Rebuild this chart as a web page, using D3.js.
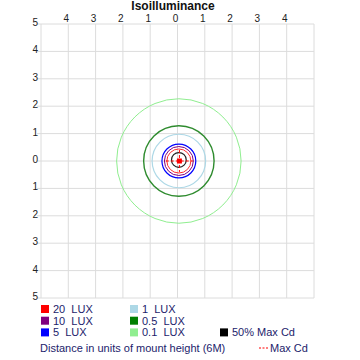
<!DOCTYPE html>
<html>
<head>
<meta charset="utf-8">
<script src="https://cdn.jsdelivr.net/npm/d3@7"></script>
<style>
  body { margin: 0; background: #fff; }
  text { font-family: "Liberation Sans", Arial, sans-serif; }
</style>
</head>
<body>
<div id="chart"></div>
<script>
// grid ticks (mount heights)
var xTicks = [-4, -3, -2, -1, 0, 1, 2, 3, 4];
var yTicks = [5, 4, 3, 2, 1, 0, -1, -2, -3, -4, -5];

// isolux contours: label, colour, radius (mount heights)
var levels = ["0.1 LUX", "0.5 LUX", "1 LUX", "5 LUX", "10 LUX", "20 LUX"];
var levelColors = ["#90ee90", "#2e8b2e", "#add8e6", "#0000ff", "#800080", "#ff3030"];
var levelRadii = [2.28, 1.29, 0.98, 0.62, 0.53, 0.44];
var levelWidths = [1, 1.4, 1.2, 1.2, 1, 1];
var centerX = 0.05, centerY = 0;

var halfMaxRadius = 0.27;          // 50% Max Cd
var maxCd = {x: 0.07, y: 0};       // Max Cd point
var maxCdSpan = 0.5;

var width = 360, height = 360;
var margin = {top: 24, left: 41, right: 46, bottom: 62};

var svg = d3.select("#chart").append("svg")
    .attr("width", width)
    .attr("height", height);

var x = d3.scaleLinear().domain([-5, 5]).range([margin.left, width - margin.right]);
var y = d3.scaleLinear().domain([-5, 5]).range([height - margin.bottom, margin.top]);
var k = x(1) - x(0);

svg.append("text")
    .attr("x", 173).attr("y", 10)
    .attr("text-anchor", "middle")
    .style("font-weight", "bold")
    .style("font-size", "12px")
    .attr("fill", "#111")
    .text("Isoilluminance");

// grid
var grid = svg.append("g").attr("stroke", "#dcdcdc").attr("stroke-width", 1);
d3.range(-5, 6).forEach(function(v) {
  grid.append("line").attr("x1", x(v)).attr("x2", x(v)).attr("y1", y(5)).attr("y2", y(-5));
  grid.append("line").attr("x1", x(-5)).attr("x2", x(5)).attr("y1", y(v)).attr("y2", y(v));
  grid.append("line").attr("x1", x(-5) - 4).attr("x2", x(-5)).attr("y1", y(v)).attr("y2", y(v));
});

svg.append("g").selectAll("text").data(xTicks).enter().append("text")
    .attr("x", function(d) { return x(d) - 2; })
    .attr("y", 22)
    .attr("text-anchor", "middle")
    .style("font-size", "10px")
    .attr("fill", "#222")
    .text(function(d) { return Math.abs(d); });

svg.append("g").selectAll("text").data(yTicks).enter().append("text")
    .attr("x", 38)
    .attr("y", function(d) { return y(d) + 2; })
    .attr("text-anchor", "end")
    .style("font-size", "10px")
    .attr("fill", "#222")
    .text(function(d) { return Math.abs(d); });

// contours
svg.append("g").selectAll("circle").data(levels).enter().append("circle")
    .attr("cx", x(centerX))
    .attr("cy", y(centerY))
    .attr("r", function(d, i) { return levelRadii[i] * k; })
    .attr("fill", "none")
    .attr("stroke", function(d, i) { return levelColors[i]; })
    .attr("stroke-width", function(d, i) { return levelWidths[i]; });

svg.append("circle")
    .attr("cx", x(centerX))
    .attr("cy", y(0.04))
    .attr("r", halfMaxRadius * k)
    .attr("fill", "none")
    .attr("stroke", "#222")
    .attr("stroke-width", 1.2);

var mc = svg.append("g").attr("stroke", "#ff0000").attr("stroke-dasharray", "3,2");
mc.append("line").attr("x1", x(maxCd.x - maxCdSpan)).attr("x2", x(maxCd.x + maxCdSpan))
    .attr("y1", y(maxCd.y)).attr("y2", y(maxCd.y));
mc.append("line").attr("x1", x(maxCd.x)).attr("x2", x(maxCd.x))
    .attr("y1", y(maxCd.y + 0.4)).attr("y2", y(maxCd.y - 0.4));
svg.append("rect")
    .attr("x", x(maxCd.x) - 2.5).attr("y", y(maxCd.y) - 2.5)
    .attr("width", 5).attr("height", 5)
    .attr("fill", "#ff0000");

// legend
var legendItems = ["20  LUX", "10  LUX", "5  LUX", "1  LUX", "0.5  LUX", "0.1  LUX", "50% Max Cd"];
var legendColors = ["#ff0000", "#800080", "#0000ff", "#add8e6", "#008000", "#90ee90", "#000000"];
var legendPos = [[41, 0], [41, 1], [41, 2], [130, 0], [130, 1], [130, 2], [220, 2]];

var legend = svg.selectAll(".legend").data(legendItems).enter().append("g")
    .attr("class", "legend")
    .attr("transform", function(d, i) {
      return "translate(" + legendPos[i][0] + "," + (305 + legendPos[i][1] * 11.7) + ")";
    });
legend.append("rect")
    .attr("width", 8).attr("height", 8)
    .attr("fill", function(d, i) { return legendColors[i]; });
legend.append("text")
    .attr("x", 12).attr("y", 8)
    .style("font-size", "11px")
    .style("white-space", "pre")
    .attr("fill", "#1c1c6b")
    .text(function(d) { return d; });

svg.append("text")
    .attr("x", 40).attr("y", 352)
    .style("font-size", "11px")
    .attr("fill", "#1c1c6b")
    .text("Distance in units of mount height (6M)");

svg.append("line")
    .attr("x1", 259).attr("x2", 268).attr("y1", 348).attr("y2", 348)
    .attr("stroke", "#ff0000").attr("stroke-dasharray", "2,1.5");
svg.append("text")
    .attr("x", 270).attr("y", 352)
    .style("font-size", "11px")
    .attr("fill", "#1c1c6b")
    .text("Max Cd");
</script>
</body>
</html>
